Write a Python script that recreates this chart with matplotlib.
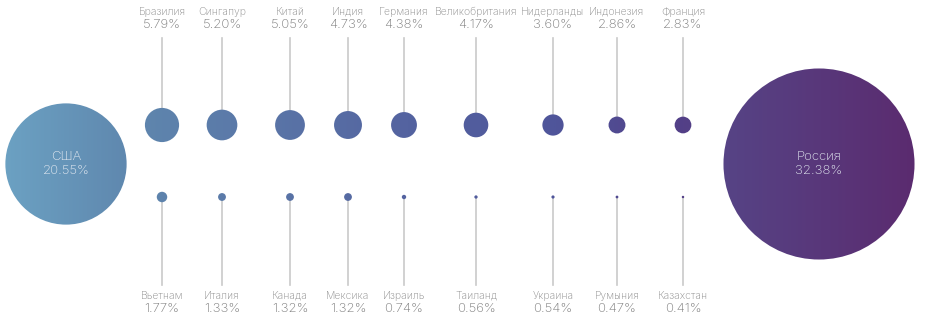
import numpy as np
import matplotlib.pyplot as plt
from matplotlib.patches import Circle
from matplotlib.colors import LinearSegmentedColormap

plt.rcParams['font.family'] = ['Inter', 'DejaVu Sans']

# данные
top_names = ["Бразилия", "Сингапур", "Китай", "Индия", "Германия",
             "Великобритания", "Нидерланды", "Индонезия", "Франция"]
top_values = [5.79, 5.20, 5.05, 4.73, 4.38, 4.17, 3.60, 2.86, 2.83]

bottom_names = ["Вьетнам", "Италия", "Канада", "Мексика", "Израиль",
                "Таиланд", "Украина", "Румыния", "Казахстан"]
bottom_values = [1.77, 1.33, 1.32, 1.32, 0.74, 0.56, 0.54, 0.47, 0.41]

big_names = ["США", "Россия"]
big_values = [20.55, 32.38]

# раскладка (в пикселях)
col_x = [162, 222, 290, 348, 404, 476, 553, 617, 683]
big_x = [66, 819]
top_y, bottom_y, big_y = 125, 197, 164
px_per_pct = 2.95

# градиент по горизонтали
stops = [(0.0, "#6ca2c3"), (0.14, "#5f87ae"), (0.44, "#5463a0"),
         (0.60, "#4f559a"), (0.74, "#533f87"), (0.78, "#564486"),
         (1.0, "#5b2a6e")]
cmap = LinearSegmentedColormap.from_list("grad", stops)
grad = np.linspace(0, 1, 512).reshape(1, -1)

fig = plt.figure(figsize=(9.25, 3.24), dpi=100)
ax = fig.add_axes([0, 0, 1, 1])
ax.set_xlim(0, 925)
ax.set_ylim(324, 0)
ax.axis('off')

name_color = "#8c8c8c"
value_color = "#7a7a7a"
line_color = "#c9c9c9"


def bubble(x, y, value):
    c = Circle((x, y), value * px_per_pct, facecolor='none', edgecolor='none')
    ax.add_patch(c)
    im = ax.imshow(grad, cmap=cmap, extent=[0, 925, 324, 0], aspect='auto',
                   interpolation='bilinear', zorder=2)
    im.set_clip_path(c)


for x, name, val in zip(col_x, top_names, top_values):
    ax.plot([x, x], [38, top_y], color=line_color, lw=1.2, zorder=1)
    bubble(x, top_y, val)
    ax.text(x, 12, name, ha='center', va='center', fontsize=7.5,
            color=name_color, fontweight='light')
    ax.text(x, 25.5, f"{val:.2f}%", ha='center', va='center', fontsize=9.5,
            color=value_color, fontweight='light')

for x, name, val in zip(col_x, bottom_names, bottom_values):
    ax.plot([x, x], [bottom_y, 285], color=line_color, lw=1.2, zorder=1)
    bubble(x, bottom_y, val)
    ax.text(x, 296, name, ha='center', va='center', fontsize=7.5,
            color=name_color, fontweight='light')
    ax.text(x, 309.5, f"{val:.2f}%", ha='center', va='center', fontsize=9.5,
            color=value_color, fontweight='light')

for x, name, val in zip(big_x, big_names, big_values):
    bubble(x, big_y, val)
    ax.text(x, big_y - 7, name, ha='center', va='center', fontsize=9.5,
            color="#e4eaf2", fontweight='light', zorder=3)
    ax.text(x, big_y + 7, f"{val:.2f}%", ha='center', va='center',
            fontsize=9.5, color="#e4eaf2", fontweight='light', zorder=3)

fig.savefig("out.png", dpi=100)
